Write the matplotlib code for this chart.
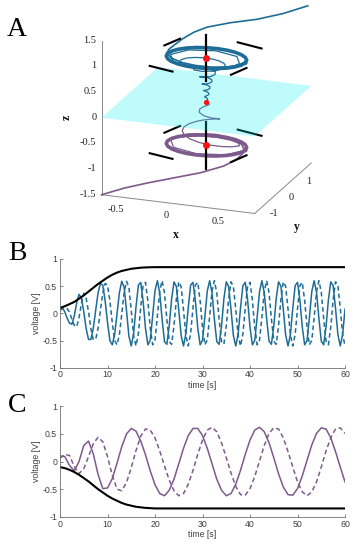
import numpy as np
import matplotlib
matplotlib.use('Agg')
import matplotlib.pyplot as plt
from matplotlib.ticker import FuncFormatter
from mpl_toolkits.mplot3d import proj3d
from mpl_toolkits.mplot3d.art3d import Poly3DCollection

plt.rcParams['axes.unicode_minus'] = False

# ---------------- panel A: state space (x, y, z) ----------------
x_lim = (-0.75, 0.75)
y_lim = (-1.6, 1.6)
z_lim = (-1.5, 1.5)
x_ticks = [-0.5, 0, 0.5]
y_ticks = [-1, 0, 1]
z_ticks = [-1.5, -1, -0.5, 0, 0.5, 1, 1.5]

# limit cycle shape (same at both levels)
ring_x = [0.38, 0.367, 0.329, 0.269, 0.19, 0.098, 0.0, -0.098, -0.19, -0.269, -0.329, -0.367, -0.38,
          -0.367, -0.329, -0.269, -0.19, -0.098, 0.0, 0.098, 0.19, 0.269, 0.329, 0.367, 0.38]
ring_y = [0.0, 0.155, 0.3, 0.424, 0.52, 0.58, 0.6, 0.58, 0.52, 0.424, 0.3, 0.155, 0.0,
          -0.155, -0.3, -0.424, -0.52, -0.58, -0.6, -0.58, -0.52, -0.424, -0.3, -0.155, 0.0]
ring_z_top = 0.85
ring_z_bot = -0.85

# equilibria on the z axis
eq_z = [0.85, 0.0, -0.85]

# trajectory entering the upper cycle from outside
t1_x = [0.740, 0.552, 0.331, 0.087, -0.119, -0.224, -0.293, -0.327, -0.360, -0.351, -0.269, -0.146, 0.0,
        0.146, 0.269, 0.351, 0.38, 0.351, 0.269, 0.146, 0.0, -0.146, -0.269, -0.351, -0.38]
t1_y = [1.453, 1.139, 0.925, 0.843, 0.729, 0.587, 0.335, 0.154, -0.027, -0.230, -0.424, -0.554, -0.6,
        -0.554, -0.424, -0.230, 0.0, 0.230, 0.424, 0.554, 0.6, 0.554, 0.424, 0.230, 0.0]
t1_z = [1.6, 1.5, 1.4, 1.3, 1.2, 1.12, 1.05, 1.0, 0.95, 0.93, 0.915, 0.90, 0.89,
        0.88, 0.872, 0.866, 0.861, 0.857, 0.855, 0.853, 0.852, 0.851, 0.85, 0.85, 0.85]

# trajectory leaving the middle equilibrium upwards
t2_x = [0.011, 0.009, 0.0, -0.011, -0.017, -0.013, 0.0, 0.015,
        0.023, 0.017, 0.0, -0.019, -0.029, -0.021, 0.0, 0.023,
        0.034, 0.026, 0.0, -0.029, -0.044, -0.033, 0.0, 0.036,
        0.053, 0.040, 0.0, -0.046, -0.068, -0.051, 0.0, 0.056,
        0.084, 0.067, 0.0, -0.082, -0.127, -0.098, 0.0, 0.113,
        0.171, 0.167, 0.134, 0.076, 0.0, -0.084, -0.161, -0.220, -0.247,
        -0.237, -0.188, -0.106, 0.0, 0.113, 0.215, 0.290, 0.323,
        0.234, 0.0, -0.243, -0.352, -0.254, 0.0, 0.264, 0.38]
t2_y = [0.0, 0.014, 0.023, 0.018, 0.0, -0.021, -0.032, -0.024,
        0.0, 0.027, 0.041, 0.030, 0.0, -0.033, -0.050, -0.037,
        0.0, 0.041, 0.062, 0.046, 0.0, -0.052, -0.077, -0.057,
        0.0, 0.064, 0.096, 0.072, 0.0, -0.081, -0.120, -0.089,
        0.0, 0.106, 0.167, 0.130, 0.0, -0.154, -0.236, -0.179,
        0.0, 0.109, 0.212, 0.291, 0.330, 0.319, 0.255, 0.144, 0.0,
        -0.155, -0.297, -0.402, -0.450, -0.430, -0.339, -0.190, 0.0,
        0.369, 0.533, 0.384, 0.0, -0.400, -0.578, -0.416, 0.0]
t2_z = [0.03, 0.045, 0.06, 0.075, 0.09, 0.105, 0.12, 0.135,
        0.15, 0.165, 0.18, 0.195, 0.21, 0.225, 0.24, 0.255,
        0.27, 0.286, 0.303, 0.319, 0.335, 0.351, 0.368, 0.384,
        0.40, 0.419, 0.438, 0.456, 0.475, 0.494, 0.513, 0.531,
        0.55, 0.569, 0.588, 0.606, 0.625, 0.644, 0.663, 0.681,
        0.70, 0.708, 0.715, 0.723, 0.73, 0.738, 0.745, 0.753, 0.76,
        0.768, 0.775, 0.783, 0.79, 0.798, 0.805, 0.813, 0.82,
        0.824, 0.828, 0.831, 0.835, 0.839, 0.843, 0.846, 0.85]

# trajectory leaving the middle equilibrium downwards
t3_x = [0.019, 0.022, 0.0, -0.039, -0.067, -0.055, 0.0, 0.072,
        0.114, 0.117, 0.099, 0.059, 0.0, -0.069, -0.136, -0.190,
        -0.219, -0.214, -0.173, -0.099, 0.0, 0.109, 0.210, 0.286,
        0.323, 0.233, 0.0, -0.244, -0.352, -0.254, 0.0, 0.264, 0.38]
t3_y = [0.0, 0.035, 0.068, 0.061, 0.0, -0.088, -0.143, -0.114,
        0.0, 0.077, 0.156, 0.224, 0.263, 0.262, 0.215, 0.124,
        0.0, -0.140, -0.273, -0.376, -0.428, -0.414, -0.331, -0.187,
        0.0, 0.369, 0.533, 0.385, 0.0, -0.400, -0.578, -0.416, 0.0]
t3_z = [-0.02, -0.055, -0.09, -0.125, -0.16, -0.195, -0.23, -0.265,
        -0.30, -0.33, -0.36, -0.39, -0.42, -0.45, -0.48, -0.51,
        -0.54, -0.57, -0.60, -0.63, -0.66, -0.69, -0.72, -0.75,
        -0.78, -0.789, -0.798, -0.806, -0.815, -0.824, -0.833, -0.841, -0.85]

# trajectory entering the lower cycle from the box corner
t4_x = [-0.75, -0.567, -0.367, -0.140, 0.088, 0.272, 0.346, 0.357, 0.269, 0.146, 0.0,
        -0.146, -0.269, -0.351, -0.38, -0.351, -0.269, -0.146, 0.0, 0.146, 0.269]
t4_y = [-1.6, -1.353, -1.199, -1.024, -0.848, -0.607, -0.286, 0.116, 0.424, 0.554, 0.6,
        0.554, 0.424, 0.230, 0.0, -0.230, -0.424, -0.554, -0.6, -0.554, -0.424]
t4_z = [-1.5, -1.4, -1.3, -1.2, -1.1, -1.0, -0.95, -0.91, -0.89, -0.882, -0.875,
        -0.869, -0.864, -0.86, -0.857, -0.855, -0.853, -0.852, -0.851, -0.85, -0.85]

# short direction markers around each cycle (start / end in x, y)
dir_x0 = [-0.485, 0.117, -0.414, 0.372]
dir_y0 = [0.42, 1.09, -0.82, -0.76]
dir_x1 = [-0.415, 0.382, -0.163, 0.44]
dir_y1 = [0.90, 0.91, -0.98, -0.276]

# eigen-direction segments along z through the outer equilibria
eig_top = [0.4, 1.3]
eig_bot = [-1.3, -0.4]

# ---------------- panel B / C: time series ----------------
t_fast = np.arange(0, 60.5, 0.5)
b_solid = [0.10, 0.10, 0.03, -0.09, -0.18, -0.20, -0.05, 0.19, 0.35, 0.28, 0.03, -0.28, -0.48,
           -0.48, -0.28, 0.05, 0.37, 0.55, 0.52, 0.23, -0.17, -0.50, -0.58, -0.39, -0.01, 0.38,
           0.59, 0.48, 0.05, -0.42, -0.60, -0.37, 0.12, 0.52, 0.57, 0.22,
           -0.28, -0.58, -0.49, -0.05, 0.42, 0.60, 0.37, -0.12, -0.52, -0.57,
           -0.22, 0.27, 0.58, 0.49, 0.06, -0.41, -0.60, -0.37, 0.11, 0.52,
           0.57, 0.23, -0.27, -0.58, -0.49, -0.06, 0.41, 0.60, 0.38, -0.11,
           -0.52, -0.57, -0.23, 0.27, 0.58, 0.49, 0.07, -0.41, -0.60, -0.38,
           0.10, 0.51, 0.57, 0.24, -0.26, -0.58, -0.50, -0.07, 0.40, 0.60,
           0.38, -0.10, -0.51, -0.57, -0.24, 0.26, 0.58, 0.50, 0.08, -0.40,
           -0.60, -0.39, 0.09, 0.51, 0.57, 0.24, -0.25, -0.58, -0.50, -0.08,
           0.40, 0.60, 0.39, -0.09, -0.51, -0.58, -0.25, 0.25, 0.58, 0.51,
           0.09, -0.39, -0.60, -0.39, 0.08]
b_dashed = [0.05, 0.09, 0.10, 0.09, 0.02, -0.11, -0.22, -0.25, -0.08, 0.18, 0.37,
            0.28, 0.03, -0.28, -0.48, -0.48, -0.28, 0.05, 0.37, 0.55, 0.52, 0.23, -0.17,
            -0.50, -0.58, -0.39, -0.01, 0.38,
            0.59, 0.48, 0.05, -0.42, -0.60, -0.37, 0.12, 0.52, 0.57, 0.22,
            -0.28, -0.58, -0.49, -0.05, 0.42, 0.60, 0.37, -0.12, -0.52, -0.57,
            -0.22, 0.27, 0.58, 0.49, 0.06, -0.41, -0.60, -0.37, 0.11, 0.52,
            0.57, 0.23, -0.27, -0.58, -0.49, -0.06, 0.41, 0.60, 0.38, -0.11,
            -0.52, -0.57, -0.23, 0.27, 0.58, 0.49, 0.07, -0.41, -0.60, -0.38,
            0.10, 0.51, 0.57, 0.24, -0.26, -0.58, -0.50, -0.07, 0.40, 0.60,
            0.38, -0.10, -0.51, -0.57, -0.24, 0.26, 0.58, 0.50, 0.08, -0.40,
            -0.60, -0.39, 0.09, 0.51, 0.57, 0.24, -0.25, -0.58, -0.50, -0.08,
            0.40, 0.60, 0.39, -0.09, -0.51, -0.58, -0.25, 0.25, 0.58, 0.51,
            0.09, -0.39, -0.60]

t_env = [0, 1, 2, 3, 4, 5, 6, 7, 8, 9, 10, 11, 12, 13, 14, 15, 16, 17, 18, 19, 20, 25, 30, 40, 50, 60]
b_env = [0.10, 0.13, 0.17, 0.21, 0.27, 0.33, 0.40, 0.47, 0.54, 0.60, 0.66, 0.71, 0.75, 0.78,
         0.80, 0.82, 0.83, 0.84, 0.845, 0.848, 0.85, 0.85, 0.85, 0.85, 0.85, 0.85]
c_env = [-0.10, -0.12, -0.15, -0.19, -0.24, -0.30, -0.36, -0.43, -0.50, -0.56, -0.62, -0.67, -0.71,
         -0.75, -0.78, -0.80, -0.82, -0.83, -0.84, -0.845, -0.85, -0.85, -0.85, -0.85, -0.85, -0.85]

t_slow = np.arange(0, 61, 1)
c_solid = [0.10, 0.09, -0.07, -0.17, 0.00, 0.29, 0.37, 0.14, -0.23, -0.49,
           -0.48, -0.31, -0.03, 0.27, 0.50, 0.60, 0.55, 0.37, 0.12, -0.17,
           -0.42, -0.58, -0.62, -0.52, -0.32, -0.04, 0.24, 0.47, 0.60, 0.60,
           0.47, 0.24, -0.04, -0.32, -0.52, -0.62, -0.58, -0.41, -0.16, 0.13,
           0.39, 0.57, 0.62, 0.54, 0.34, 0.07, -0.22, -0.46, -0.60, -0.61,
           -0.49, -0.26, 0.02, 0.30, 0.51, 0.61, 0.59, 0.43, 0.18, -0.10, -0.37]
c_dashed = [0.06, 0.13, 0.11, -0.09, -0.22, -0.13, 0.09, 0.32, 0.44, 0.36,
            0.09, -0.25, -0.50, -0.53, -0.38, -0.11, 0.20, 0.46, 0.59, 0.57,
            0.43, 0.19, -0.08, -0.34, -0.53, -0.62, -0.58, -0.41, -0.16, 0.13,
            0.39, 0.57, 0.62, 0.54, 0.34, 0.07, -0.21, -0.45, -0.60, -0.61,
            -0.49, -0.27, 0.01, 0.29, 0.51, 0.61, 0.59, 0.43, 0.18, -0.10,
            -0.37, -0.55, -0.62, -0.55, -0.37, -0.10, 0.19, 0.43, 0.59, 0.61, 0.51]

BLUE = '#1d6d96'
PURPLE = '#7d5a8c'
SERIF = 'Liberation Serif'
SANS = 'Liberation Sans'
GRAY = '#404040'

fig = plt.figure(figsize=(3.6, 5.5), dpi=100)

# ---- A ----
ax = fig.add_axes([0.182, 0.5587, 0.7625, 0.4991], projection='3d', computed_zorder=False)
ax.set_proj_type('ortho')
ax.set_box_aspect((1, 1, 1))
ax.view_init(elev=19.3, azim=-69.7)
ax.set_facecolor('none')
ax.set_xlim(*x_lim)
ax.set_ylim(*y_lim)
ax.set_zlim(*z_lim)
ax.grid(False)
for axis in (ax.xaxis, ax.yaxis, ax.zaxis):
    axis.set_pane_color((1, 1, 1, 0))
    axis.pane.set_edgecolor((1, 1, 1, 0))
    axis.line.set_color('#888888')
    axis.line.set_linewidth(0.7)
    axis.label.set_visible(False)
    axis.offsetText.set_visible(False)
ax.zaxis.set_ticks_position('lower')
ax.zaxis.set_label_position('lower')
# MATLAB shows no visible tick marks here; labels are added below as text
ax.set_xticks([])
ax.set_yticks([])
ax.set_zticks([])

# below the plane
ax.plot(t4_x, t4_y, t4_z, color=PURPLE, lw=1.2, zorder=1)
ax.plot(t3_x, t3_y, t3_z, color=PURPLE, lw=0.9, zorder=1)
ax.plot(ring_x, ring_y, [ring_z_bot] * len(ring_x), color=PURPLE, lw=2.6, zorder=2)
ax.plot([0, 0], [0, 0], eig_bot, color='k', lw=1.6, zorder=2)
for i in range(len(dir_x0)):
    ax.plot([dir_x0[i], dir_x1[i]], [dir_y0[i], dir_y1[i]], [ring_z_bot] * 2, color='k', lw=1.5, zorder=2)
ax.plot([0], [0], [eq_z[2]], 'o', color='#ff1010', ms=5, mec='none', zorder=3)

# plane z = 0
plane = Poly3DCollection([[(x_lim[0], y_lim[0], 0), (x_lim[1], y_lim[0], 0),
                           (x_lim[1], y_lim[1], 0), (x_lim[0], y_lim[1], 0)]],
                         facecolor=(0.0, 0.95, 0.95, 0.25), edgecolor='none', zorder=4)
ax.add_collection3d(plane)

# above the plane
ax.plot(t2_x, t2_y, t2_z, color=BLUE, lw=0.9, zorder=5)
ax.plot(t1_x, t1_y, t1_z, color=BLUE, lw=1.2, zorder=5)
ax.plot(ring_x, ring_y, [ring_z_top] * len(ring_x), color=BLUE, lw=2.6, zorder=6)
ax.plot([0, 0], [0, 0], eig_top, color='k', lw=1.6, zorder=6)
for i in range(len(dir_x0)):
    ax.plot([dir_x0[i], dir_x1[i]], [dir_y0[i], dir_y1[i]], [ring_z_top] * 2, color='k', lw=1.5, zorder=6)
ax.plot([0], [0], [eq_z[0]], 'o', color='#ff1010', ms=5, mec='none', zorder=7)
ax.plot([0], [0], [eq_z[1]], 'o', color='#ff1010', ms=3.8, mec='none', zorder=7)

# tick and axis labels, offset the way MATLAB places them
fig.canvas.draw()
M = ax.get_proj()


def label3d(x, y, z, s, **kw):
    px, py, _ = proj3d.proj_transform(x, y, z, M)
    ax.text2D(px, py, s, transform=ax.transData, **kw)


tk = dict(fontsize=7.5, fontfamily=SERIF, color='#222222', va='center')
for v in x_ticks:
    label3d(v, y_lim[0] - 0.65, z_lim[0] - 0.02, '%g' % v, ha='center', **tk)
for v in y_ticks:
    label3d(x_lim[1] + 0.08, v, z_lim[0] - 0.16, '%g' % v, ha='center', **tk)
for v in z_ticks:
    label3d(x_lim[0] - 0.05, y_lim[0], v, '%g' % v, ha='right', **tk)
lb = dict(fontsize=8.5, fontfamily=SERIF, fontweight='bold', color='#111111', ha='center', va='center')
label3d(0.278, -3.35, z_lim[0], 'x', **lb)
label3d(1.249, -2.08, z_lim[0], 'y', **lb)
label3d(-1.088, y_lim[0], -0.08, 'z', rotation=90, **lb)


def style_2d(a):
    a.set_xlim(0, 60)
    a.set_ylim(-1, 1)
    a.set_xticks([0, 10, 20, 30, 40, 50, 60])
    a.set_yticks([-1, -0.5, 0, 0.5, 1])
    a.yaxis.set_major_formatter(FuncFormatter(lambda v, p: '%g' % v))
    for s in ('top', 'right'):
        a.spines[s].set_visible(False)
    for s in ('left', 'bottom'):
        a.spines[s].set_color('#707070')
        a.spines[s].set_linewidth(0.6)
    a.tick_params(direction='in', length=2.5, width=0.6, color='#707070',
                  labelsize=6.3, labelcolor=GRAY, pad=2)
    for lab in a.get_xticklabels() + a.get_yticklabels():
        lab.set_fontfamily(SANS)
    a.set_xlabel('time [s]', fontsize=6.3, color=GRAY, fontfamily=SANS, labelpad=1)
    a.set_ylabel('voltage [V]', fontsize=6.3, color=GRAY, fontfamily=SANS, labelpad=1)
    a.patch.set_alpha(0)


# ---- B ----
axb = fig.add_axes([0.1667, 0.3315, 0.7917, 0.1976])
axb.plot(t_fast, b_solid, color=BLUE, lw=1.1)
axb.plot(t_fast, b_dashed, color=BLUE, lw=1.1, dashes=(3, 2))
axb.plot(t_env, b_env, color='k', lw=1.5)
style_2d(axb)

# ---- C ----
axc = fig.add_axes([0.1667, 0.0605, 0.7917, 0.2007])
axc.plot(t_slow, c_solid, color=PURPLE, lw=1.1)
axc.plot(t_slow, c_dashed, color=PURPLE, lw=1.1, dashes=(3, 2))
axc.plot(t_env, c_env, color='k', lw=1.5)
style_2d(axc)

for lbl, yy in (('A', 30), ('B', 254), ('C', 406)):
    fig.text(17 / 360, 1 - yy / 550, lbl, fontsize=20, fontfamily=SERIF, ha='center', va='center')

fig.savefig('out.png', dpi=100)
